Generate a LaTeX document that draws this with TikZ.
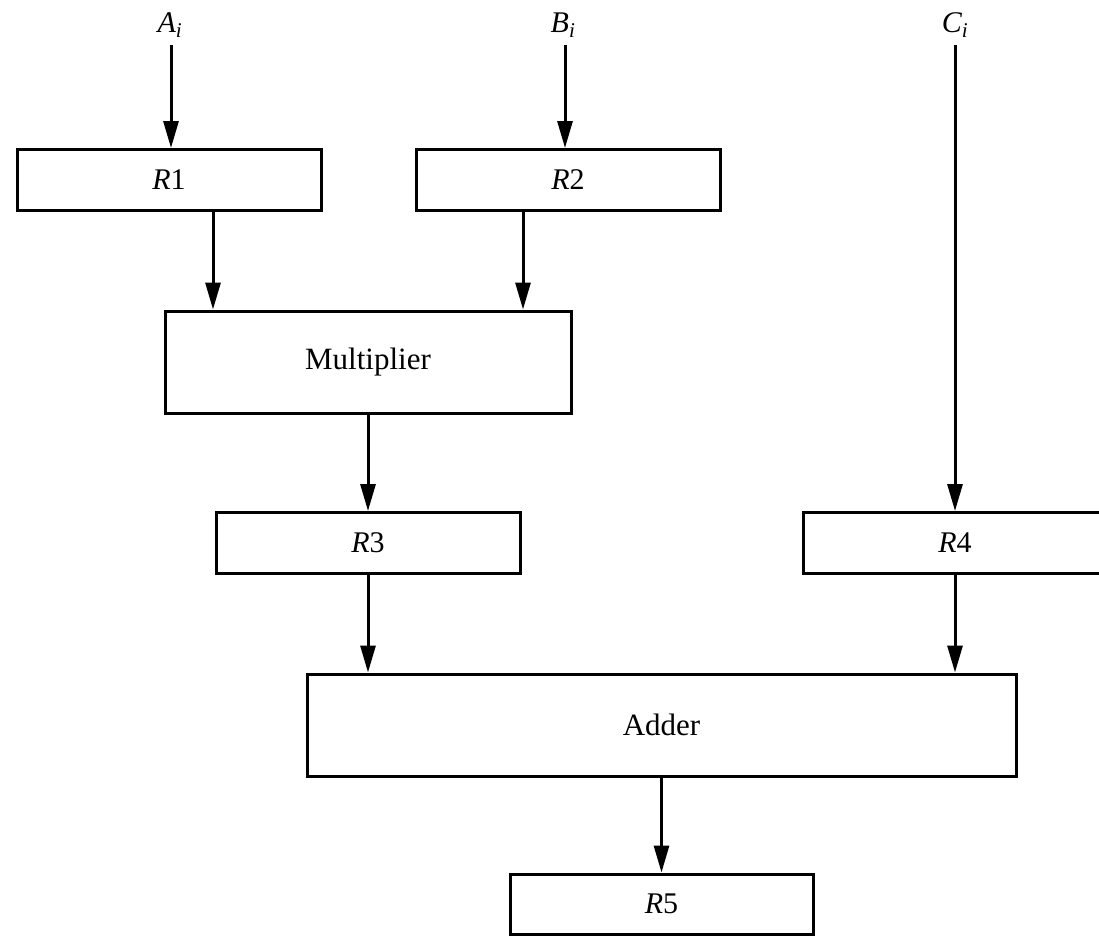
\documentclass[tikz,border=0pt]{standalone}
\usepackage{fontspec}
\setmainfont{Liberation Serif}
\usetikzlibrary{arrows.meta}

\tikzset{
  reg/.style={draw, line width=3pt, rectangle, inner sep=0pt,
              minimum width=304pt, minimum height=61pt,
              font=\fontsize{30}{35}\selectfont},
  unit/.style={reg, minimum height=102pt, font=\fontsize{31}{36}\selectfont},
  inlabel/.style={inner sep=0pt, font=\fontsize{30}{35}\selectfont},
  flow/.style={line width=3pt, -{Triangle[length=27pt,width=15pt]}}
}

\begin{document}
\begin{tikzpicture}[x=1pt,y=-1pt]
  \useasboundingbox (0,0) rectangle (1099,935);

  % input labels
  \node[inlabel] (A) at (170,25) {\textit{A\textsubscript{i}}};
  \node[inlabel] (B) at (563,25) {\textit{B\textsubscript{i}}};
  \node[inlabel] (C) at (955,25) {\textit{C\textsubscript{i}}};
  \coordinate (a0) at (171,45);
  \coordinate (b0) at (565,45);
  \coordinate (c0) at (955,45);

  % registers and arithmetic units
  \node[reg] (R1) at (169,180) {\textit{R}1};
  \node[reg] (R2) at (568,180) {\textit{R}2};
  \node[unit, minimum width=406pt] (M) at (368,362) {Multiplier};
  \node[reg] (R3) at (368,543) {\textit{R}3};
  \node[reg] (R4) at (955,543) {\textit{R}4};
  \node[unit, minimum width=709pt] (ADD) at (661.5,725) {Adder};
  \node[reg, minimum width=303pt, minimum height=60pt] (R5) at (661.5,904) {\textit{R}5};

  % columns used by the data paths
  \coordinate (x1) at (213,0);
  \coordinate (x2) at (523,0);
  \coordinate (x3) at (368,0);
  \coordinate (x4) at (955,0);
  \coordinate (x5) at (661.5,0);

  % data paths
  \draw[flow] (a0) -- (a0 |- R1.north);
  \draw[flow] (b0) -- (b0 |- R2.north);
  \draw[flow] (c0) -- (c0 |- R4.north);
  \draw[flow] (x1 |- R1.south) -- (x1 |- M.north);
  \draw[flow] (x2 |- R2.south) -- (x2 |- M.north);
  \draw[flow] (x3 |- M.south) -- (x3 |- R3.north);
  \draw[flow] (x3 |- R3.south) -- (x3 |- ADD.north);
  \draw[flow] (x4 |- R4.south) -- (x4 |- ADD.north);
  \draw[flow] (x5 |- ADD.south) -- (x5 |- R5.north);
\end{tikzpicture}
\end{document}
